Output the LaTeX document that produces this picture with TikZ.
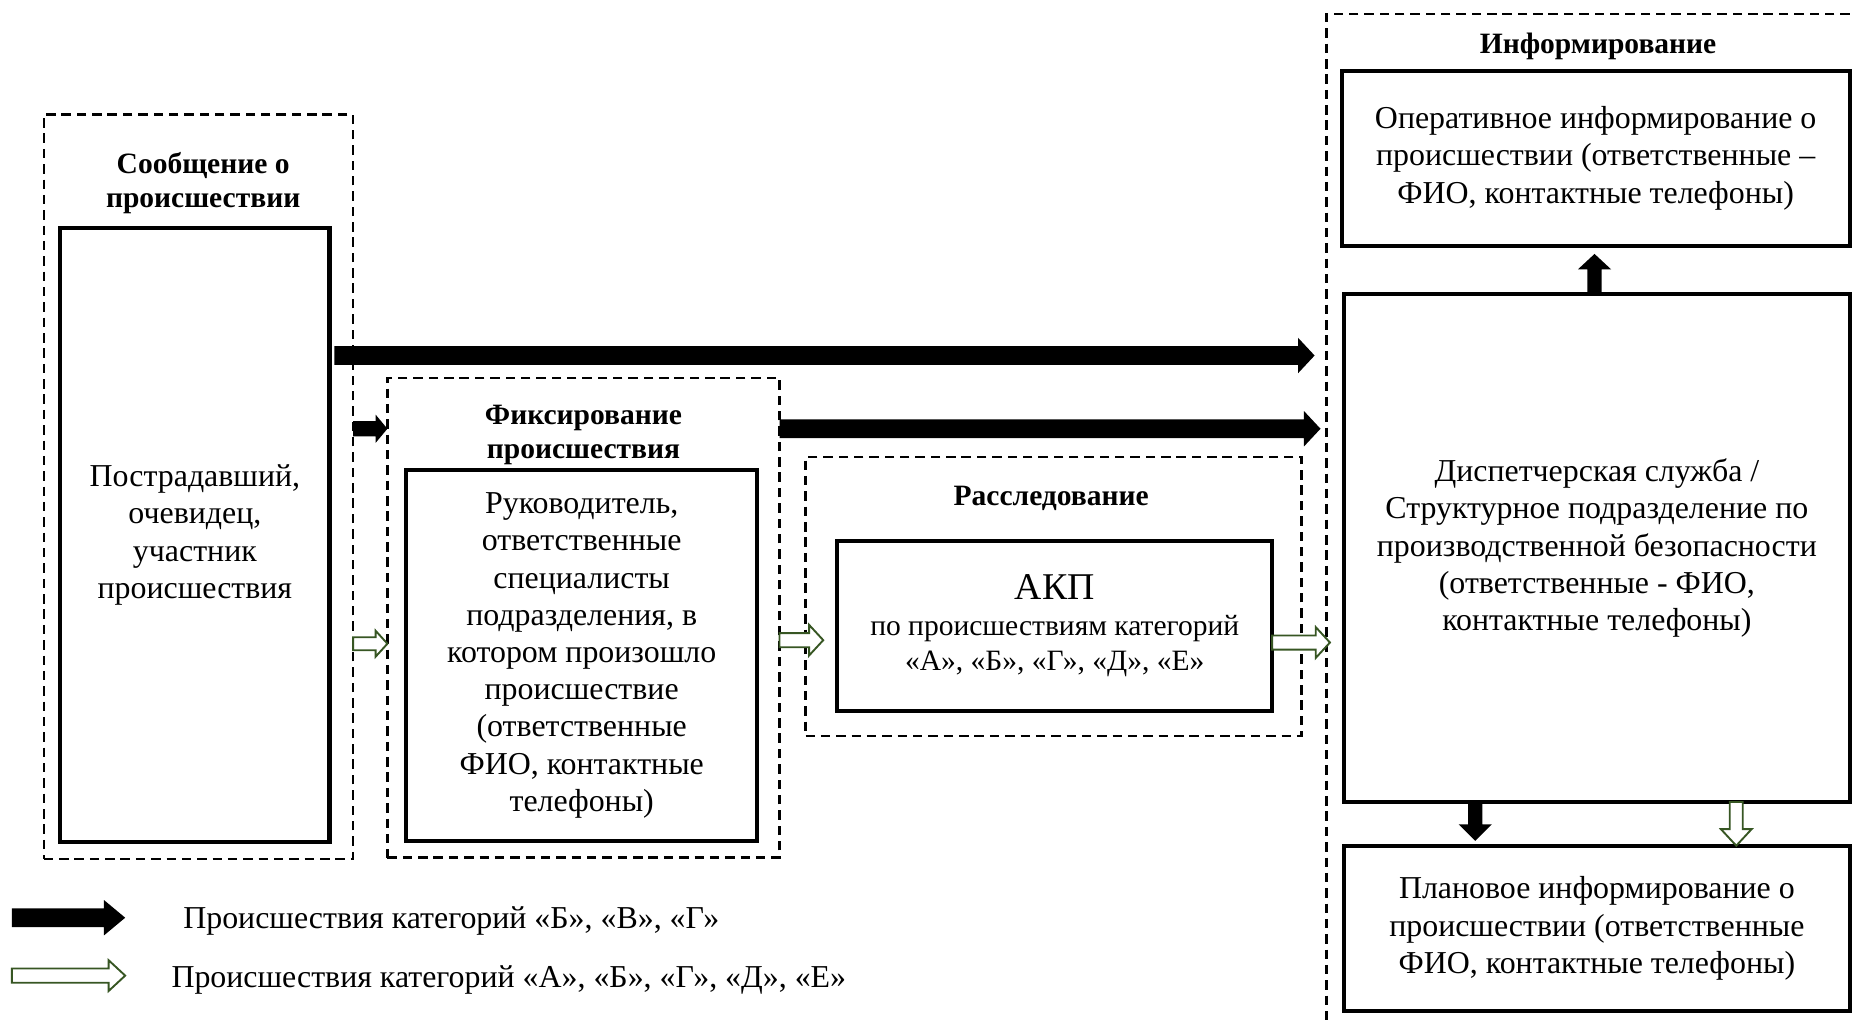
\documentclass[tikz,border=0pt]{standalone}
\usepackage{fontspec}
\setmainfont{Liberation Serif}
\usetikzlibrary{calc}
\definecolor{arrgreen}{HTML}{375623}
\newcommand\mybodyfont{\fontsize{27}{31.5}\selectfont}
\newcommand\mytitlefont{\fontsize{25}{29}\selectfont\bfseries}
\newcommand\blockarrowH[6]{\path[#1] let \p1=#2, \p2=#3 in
  (\x1,{\y1+#4}) -- ({\x2-(#6)},{\y1+#4}) -- ({\x2-(#6)},{\y1+#5}) -- (\x2,\y1)
  -- ({\x2-(#6)},{\y1-#5}) -- ({\x2-(#6)},{\y1-#4}) -- (\x1,{\y1-#4}) -- cycle;}
\newcommand\blockarrowV[6]{\path[#1] let \p1=#2, \p2=#3 in
  ({\x1+#4},\y1) -- ({\x1+#4},{\y2-(#6)}) -- ({\x1+#5},{\y2-(#6)}) -- (\x1,\y2)
  -- ({\x1-#5},{\y2-(#6)}) -- ({\x1-#4},{\y2-(#6)}) -- ({\x1-#4},\y1) -- cycle;}
\tikzset{
  dbox/.style={draw, line width=2pt, dash pattern=on 8pt off 5pt, inner sep=0pt, outer sep=0pt},
  sbox/.style={draw, line width=3.5pt, fill=white, inner sep=0pt, outer sep=0pt, align=center, font=\mybodyfont},
  ttl/.style={font=\mytitlefont, align=center, inner sep=0pt},
  legtxt/.style={font=\mybodyfont, anchor=west, inner sep=0pt},
  blackarr/.style={fill=black},
  greenarr/.style={draw=arrgreen, fill=white, line width=1.6pt, line join=miter},
}
\begin{document}
\begin{tikzpicture}[x=1pt,y=-1pt]
\useasboundingbox (0,0) rectangle (1568,864);
\clip (0,0) rectangle (1568,864);
% dashed groups
\node[dbox, minimum width=262pt, minimum height=630pt] (dash1) at (168,412) {};
\node[dbox, minimum width=332pt, minimum height=406pt] (dash2) at (494,523) {};
\node[dbox, minimum width=420pt, minimum height=236pt] (dash3) at (892,505) {};
\node[dbox, minimum width=480pt, minimum height=900pt] (dash4) at (1363,462) {};
% titles
\node[ttl] (t1) at (172,155) {Сообщение о\\происшествии};
\node[ttl] (t2) at (494,368) {Фиксирование\\происшествия};
\node[ttl] (t3) at (890,422) {Расследование};
\node[ttl] (t4) at (1353,39) {Информирование};
% solid boxes
\node[sbox, minimum width=228pt, minimum height=520pt] (box1) at (165,453)
  {Пострадавший,\\очевидец,\\участник\\происшествия};
\node[sbox, minimum width=297pt, minimum height=314pt] (box2) at (492.5,555)
  {Руководитель,\\ответственные\\специалисты\\подразделения, в\\котором произошло\\происшествие\\(ответственные\\ФИО, контактные\\телефоны)};
\node[sbox, minimum width=368pt, minimum height=144pt, font=\fontsize{25}{30}\selectfont] (box3) at (893,530)
  {{\fontsize{32}{34}\selectfont АКП}\\по происшествиям категорий\\«А», «Б», «Г», «Д», «Е»};
\node[sbox, minimum width=430pt, minimum height=148pt] (box4a) at (1351,134)
  {Оперативное информирование о\\происшествии (ответственные –\\ФИО, контактные телефоны)};
\node[sbox, minimum width=428pt, minimum height=430pt] (box4b) at (1352,464)
  {Диспетчерская служба /\\Структурное подразделение по\\производственной безопасности\\(ответственные - ФИО,\\контактные телефоны)};
\node[sbox, minimum width=428pt, minimum height=140pt] (box4c) at (1352,786)
  {Плановое информирование о\\происшествии (ответственные\\ФИО, контактные телефоны)};
% helper rows/columns
\coordinate (r1) at (0,301);
\coordinate (r2) at (0,363);
\coordinate (g1) at (0,545);
\coordinate (g2) at (0,542);
\coordinate (g3) at (0,544);
\coordinate (c1) at (1350,0);
\coordinate (c2) at (1249,0);
\coordinate (c3) at (1470,0);
% black arrows
\blockarrowH{blackarr}{([xshift=4pt]box1.east |- r1)}{([xshift=-10pt]dash4.west |- r1)}{8pt}{15pt}{14pt}
\blockarrowH{blackarr}{(dash1.east |- r2)}{(dash2.west |- r2)}{6.5pt}{12pt}{10pt}
\blockarrowH{blackarr}{(dash2.east |- r2)}{([xshift=-5pt]dash4.west |- r2)}{8pt}{15pt}{14pt}
\blockarrowV{blackarr}{(box4b.north -| c1)}{([yshift=-7pt]box4a.south -| c1)}{6pt}{14pt}{13pt}
\blockarrowV{blackarr}{(box4b.south -| c2)}{([yshift=4pt]box4c.north -| c2)}{6pt}{14pt}{-14pt}
% green arrows
\blockarrowH{greenarr}{(dash1.east |- g1)}{(dash2.west |- g1)}{5.5pt}{11pt}{10pt}
\blockarrowH{greenarr}{(dash2.east |- g2)}{([xshift=15pt]dash3.west |- g2)}{6pt}{13pt}{12pt}
\blockarrowH{greenarr}{(box3.east |- g3)}{([xshift=3pt]dash4.west |- g3)}{6pt}{13pt}{12pt}
\blockarrowV{greenarr}{(box4b.south -| c3)}{(box4c.north -| c3)}{5.5pt}{13pt}{-14pt}
% legend
\coordinate (l1s) at (10,777);
\coordinate (l1e) at (106,777);
\coordinate (l2s) at (10,826);
\coordinate (l2e) at (106,826);
\blockarrowH{blackarr}{(l1s)}{(l1e)}{8pt}{15pt}{18pt}
\blockarrowH{greenarr}{(l2s)}{(l2e)}{6pt}{13pt}{14pt}
\node[legtxt] (leg1) at (155,780) {Происшествия категорий «Б», «В», «Г»};
\node[legtxt] (leg2) at (145,830) {Происшествия категорий «А», «Б», «Г», «Д», «Е»};
\end{tikzpicture}
\end{document}
